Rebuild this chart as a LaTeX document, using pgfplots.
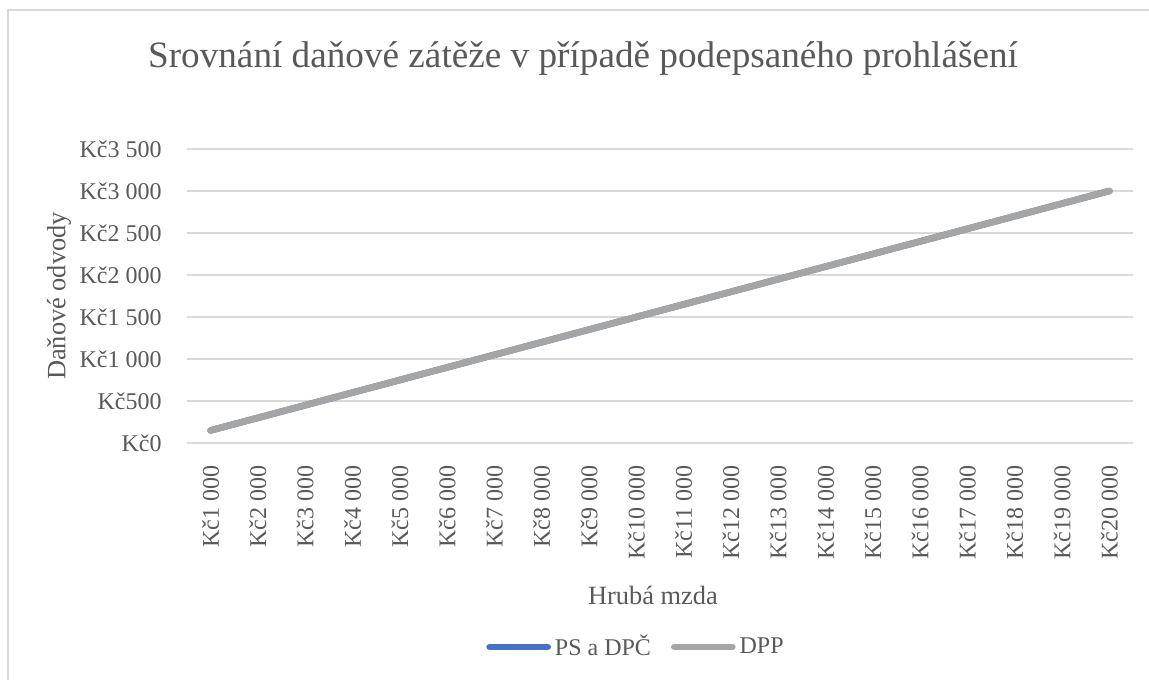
\documentclass[border=0pt]{standalone}
\usepackage{pgfplots}
\pgfplotsset{compat=1.18}
\usepackage{fontspec}
\setmainfont{Liberation Serif}
\definecolor{txt}{HTML}{595959}
\definecolor{gridc}{HTML}{D9D9D9}
\definecolor{lblue}{HTML}{4472C4}
\definecolor{lgrey}{HTML}{A5A5A5}
\begin{document}
\begin{tikzpicture}[x=1pt,y=1pt]
\path[use as bounding box] (0,0) rectangle (574.5,339.5);
\draw[gridc, line width=1pt] (4,-2) -- (4,334.5) -- (580,334.5);
\begin{axis}[
  at={(93.5pt,118pt)}, anchor=south west,
  scale only axis, width=473pt, height=147pt,
  xmin=-0.5, xmax=19.5, ymin=0, ymax=3500,
  xtick={0,...,19},
  xticklabels={Kč1 000,Kč2 000,Kč3 000,Kč4 000,Kč5 000,Kč6 000,Kč7 000,Kč8 000,Kč9 000,Kč10 000,Kč11 000,Kč12 000,Kč13 000,Kč14 000,Kč15 000,Kč16 000,Kč17 000,Kč18 000,Kč19 000,Kč20 000},
  ytick={0,500,...,3500},
  yticklabels={Kč0,Kč500,Kč1 000,Kč1 500,Kč2 000,Kč2 500,Kč3 000,Kč3 500},
  axis line style={draw=none},
  major tick length=0pt,
  ymajorgrids, grid style={gridc, line width=0.8pt},
  ticklabel style={font=\fontsize{12}{14}\selectfont, text=txt, inner sep=0pt},
  xticklabel style={rotate=90, anchor=east},
  xticklabel shift=11pt,
  yticklabel style={anchor=east},
  yticklabel shift=12.5pt,
  title={Srovnání daňové zátěže v případě podepsaného prohlášení},
  title style={at={(axis description cs:0.4186,1.268)}, anchor=center, font=\fontsize{18.6}{22}\selectfont, text=txt},
  xlabel={Hrubá mzda},
  xlabel style={at={(axis description cs:0.4926,-0.517)}, anchor=center, font=\fontsize{13.2}{16}\selectfont, text=txt},
  ylabel={Daňové odvody},
  ylabel style={at={(axis description cs:-0.1353,0.5)}, anchor=center, font=\fontsize{13.2}{16}\selectfont, text=txt},
  legend columns=2,
  legend style={at={(axis description cs:0.4757,-0.694)}, anchor=center, draw=none, fill=none,
    font=\fontsize{12}{14}\selectfont, text=txt, inner sep=0pt,
    /tikz/every even column/.append style={column sep=8pt}},
  legend image code/.code={\draw[#1, line cap=round] (0pt,0pt) -- (29pt,0pt);},
]
\addplot[lblue, line width=3.3pt, line cap=round] coordinates {
(0,150) (1,300) (2,450) (3,600) (4,750) (5,900) (6,1050) (7,1200) (8,1350) (9,1500)
(10,1650) (11,1800) (12,1950) (13,2100) (14,2250) (15,2400) (16,2550) (17,2700) (18,2850) (19,3000)};
\addlegendentry{PS a DPČ}
\addplot[lgrey, line width=3.3pt, line cap=round] coordinates {
(0,150) (1,300) (2,450) (3,600) (4,750) (5,900) (6,1050) (7,1200) (8,1350) (9,1500)
(10,1650) (11,1800) (12,1950) (13,2100) (14,2250) (15,2400) (16,2550) (17,2700) (18,2850) (19,3000)};
\addlegendentry{DPP}
\end{axis}
\end{tikzpicture}
\end{document}
